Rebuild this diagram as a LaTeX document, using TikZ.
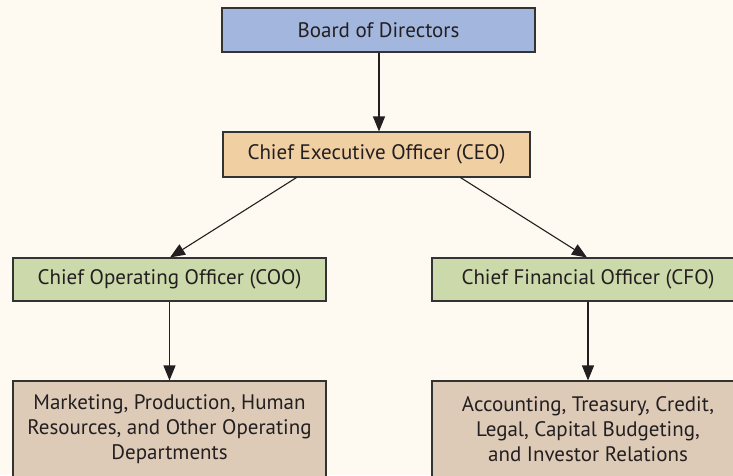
\documentclass[tikz,border=0pt]{standalone}
\usepackage{fontspec}
\setmainfont{PT Sans}
\usetikzlibrary{arrows.meta}
\definecolor{bgc}{HTML}{FEFAF2}
\definecolor{boardc}{HTML}{A3B7DE}
\definecolor{ceoc}{HTML}{F0CFA3}
\definecolor{officerc}{HTML}{CBD9AB}
\definecolor{deptc}{HTML}{DDCBB8}
\definecolor{edgec}{HTML}{333333}
\definecolor{txtc}{HTML}{231F20}
\tikzset{
  box/.style={draw=edgec, line width=1.1pt, inner sep=0pt, align=center,
    font=\fontsize{21}{25}\selectfont, text=txtc},
  arr/.style={draw=txtc, line width=1.1pt, -{Triangle[length=15pt,width=12pt]}}
}
\begin{document}
\begin{tikzpicture}[x=1pt,y=-1pt]
\fill[bgc] (0,0) rectangle (733,475);
\useasboundingbox (0,0) rectangle (733,475);
\node[box, fill=boardc, minimum width=313pt, minimum height=44pt] (board) at (378.5,30) {Board of Directors};
\node[box, fill=ceoc, minimum width=307pt, minimum height=45pt] (ceo) at (376.5,154.5) {Chief Executive Officer (CEO)};
\node[box, fill=officerc, minimum width=313pt, minimum height=43pt] (coo) at (169.5,279.5) {Chief Operating Officer (COO)};
\node[box, fill=officerc, minimum width=312pt, minimum height=43pt] (cfo) at (588,279.5) {Chief Financial Officer (CFO)};
\node[box, fill=deptc, minimum width=313pt, minimum height=96pt] (ops) at (169.5,429) {Marketing, Production, Human\\Resources, and Other Operating\\Departments};
\node[box, fill=deptc, minimum width=312pt, minimum height=96pt] (fin) at (588,429) {Accounting, Treasury, Credit,\\Legal, Capital Budgeting,\\and Investor Relations};
\draw[arr] ([xshift=0.5pt]board.south) -- ([xshift=0.5pt]board.south |- ceo.north);
\draw[arr] ([xshift=-80pt]ceo.south) -- ([xshift=0.5pt]coo.north);
\draw[arr] ([xshift=84pt]ceo.south) -- ([xshift=-1pt]cfo.north);
\draw[arr] (coo.south) -- (ops.north);
\draw[arr] (cfo.south) -- (fin.north);
\end{tikzpicture}
\end{document}
